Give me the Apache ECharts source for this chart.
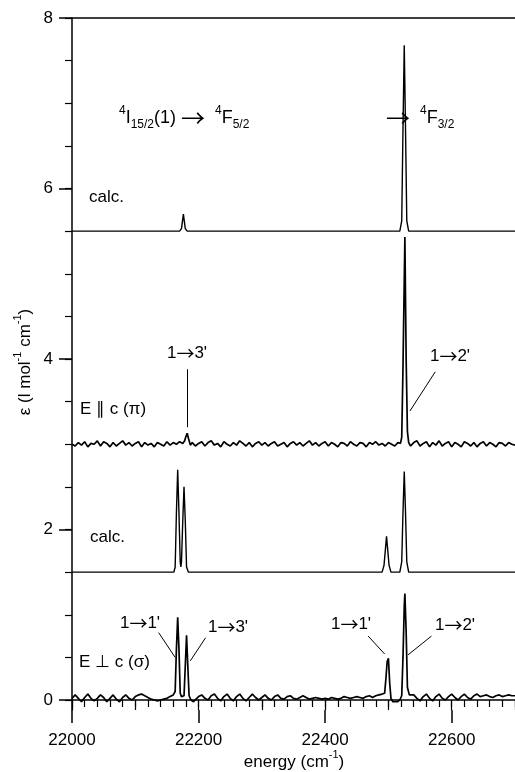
<!DOCTYPE html>
<html>
<head>
<meta charset="utf-8">
<style>
  html, body { margin: 0; padding: 0; background: #fff; }
  #chart { width: 515px; height: 772px; }
</style>
<script src="https://cdn.jsdelivr.net/npm/echarts@6/dist/echarts.min.js"></script>
</head>
<body>
<div id="chart"></div>
<script>
// Absorption spectra of the 4I15/2(1) -> 4F5/2, 4F3/2 transitions (energy in cm^-1, epsilon in l mol^-1 cm^-1)

// calculated pi spectrum (offset baseline 5.5)
const calcPi = [
  [22000, 5.5], [22170, 5.5], [22173, 5.53], [22176, 5.70], [22179, 5.53], [22182, 5.5],
  [22518, 5.5], [22521, 5.62], [22523, 6.7], [22525, 7.68], [22527, 6.7], [22529, 5.62], [22532, 5.5],
  [22700, 5.5]
];

// measured E || c (pi) spectrum (offset baseline 3.0)
const measPi = [
  [22000, 3.00], [22005, 2.98], [22010, 3.02], [22015, 2.99], [22020, 3.03], [22025, 2.97], [22030, 3.01],
  [22035, 3.00], [22040, 3.04], [22045, 2.98], [22050, 3.03], [22055, 3.01], [22060, 2.97], [22065, 3.02],
  [22070, 2.98], [22075, 3.01], [22080, 3.04], [22085, 2.99], [22090, 3.02], [22095, 2.98], [22100, 3.01],
  [22105, 3.03], [22110, 2.97], [22115, 3.02], [22120, 2.99], [22125, 3.01], [22130, 2.97], [22135, 3.02],
  [22140, 3.00], [22145, 2.98], [22150, 3.03], [22155, 2.99], [22160, 3.02], [22165, 3.00], [22170, 3.03],
  [22175, 3.01], [22178, 3.04], [22180, 3.09], [22182, 3.13], [22184, 3.07], [22187, 2.99], [22190, 3.02],
  [22195, 2.98], [22200, 3.01], [22205, 3.03], [22210, 2.98], [22215, 3.02], [22220, 3.04], [22225, 2.99],
  [22230, 3.01], [22235, 2.97], [22240, 3.03], [22245, 3.00], [22250, 2.98], [22255, 3.02], [22260, 2.99],
  [22265, 3.04], [22270, 3.01], [22275, 2.98], [22280, 3.02], [22285, 2.97], [22290, 3.01], [22295, 3.03],
  [22300, 2.99], [22305, 3.02], [22310, 2.98], [22315, 3.01], [22320, 3.03], [22325, 2.98], [22330, 3.00],
  [22335, 3.02], [22340, 2.97], [22345, 3.01], [22350, 3.03], [22355, 2.99], [22360, 3.02], [22365, 2.98],
  [22370, 3.01], [22375, 3.04], [22380, 2.99], [22385, 3.02], [22390, 2.98], [22395, 3.01], [22400, 3.03],
  [22405, 2.98], [22410, 3.02], [22415, 3.00], [22420, 2.97], [22425, 3.02], [22430, 3.01], [22435, 2.98],
  [22440, 3.03], [22445, 3.00], [22450, 2.98], [22455, 3.02], [22460, 3.01], [22465, 2.97], [22470, 3.02],
  [22475, 3.00], [22480, 3.03], [22485, 2.99], [22490, 3.01], [22495, 2.98], [22500, 3.02], [22505, 3.00],
  [22510, 2.98], [22515, 3.02], [22519, 3.01], [22521, 3.08], [22523, 3.9], [22526, 5.43], [22528, 4.0],
  [22530, 3.15], [22532, 3.02], [22535, 2.98], [22540, 3.02], [22545, 3.04], [22550, 2.98], [22555, 3.01],
  [22560, 3.03], [22565, 2.97], [22570, 3.02], [22575, 2.99], [22580, 3.04], [22585, 2.98], [22590, 3.01],
  [22595, 3.03], [22600, 2.97], [22605, 3.02], [22610, 3.00], [22615, 2.97], [22620, 3.03], [22625, 3.01],
  [22630, 2.98], [22635, 3.02], [22640, 2.97], [22645, 3.01], [22650, 3.03], [22655, 2.98], [22660, 3.02],
  [22665, 3.00], [22670, 2.97], [22675, 3.02], [22680, 3.01], [22685, 2.98], [22690, 3.02], [22695, 3.00],
  [22700, 2.99]
];

// calculated sigma spectrum (offset baseline 1.5)
const calcSigma = [
  [22000, 1.5], [22161, 1.5], [22163, 1.56], [22165, 2.2], [22167, 2.70], [22169, 2.2], [22171, 1.62],
  [22172, 1.56], [22173, 1.62], [22175, 2.1], [22177, 2.50], [22179, 2.1], [22181, 1.56], [22184, 1.5],
  [22490, 1.5], [22493, 1.58], [22495, 1.75], [22497, 1.92], [22499, 1.75], [22501, 1.58], [22504, 1.5],
  [22518, 1.5], [22521, 1.62], [22523, 2.2], [22525, 2.68], [22527, 2.2], [22529, 1.62], [22532, 1.5],
  [22700, 1.5]
];

// measured E perpendicular c (sigma) spectrum
const measSigma = [
  [22000, 0.02], [22005, 0.06], [22010, 0.02], [22015, -0.02], [22020, 0.03], [22025, 0.07], [22030, 0.02],
  [22035, -0.01], [22040, 0.02], [22045, 0.06], [22050, 0.03], [22055, -0.02], [22060, 0.02], [22065, 0.06],
  [22070, 0.01], [22075, -0.02], [22080, 0.03], [22085, 0.06], [22090, 0.02], [22095, 0.00], [22100, 0.04],
  [22105, 0.06], [22110, 0.07], [22115, 0.05], [22120, 0.03], [22125, 0.01], [22130, 0.00], [22135, -0.01],
  [22140, 0.00], [22145, 0.01], [22150, 0.02], [22155, 0.04], [22160, 0.06], [22163, 0.10], [22165, 0.6],
  [22167, 0.97], [22169, 0.6], [22171, 0.08], [22173, 0.04], [22175, 0.03], [22177, 0.05], [22179, 0.4],
  [22181, 0.76], [22183, 0.4], [22185, 0.05], [22188, 0.00], [22192, -0.02], [22196, 0.01], [22200, 0.04],
  [22205, 0.06], [22210, 0.02], [22215, 0.00], [22220, 0.05], [22225, 0.07], [22230, 0.02], [22235, -0.01],
  [22240, 0.04], [22245, 0.07], [22250, 0.02], [22255, -0.01], [22260, 0.04], [22265, 0.07], [22270, 0.02],
  [22275, -0.01], [22280, 0.03], [22285, 0.07], [22290, 0.03], [22295, 0.00], [22300, 0.03], [22305, 0.06],
  [22310, 0.02], [22315, 0.00], [22320, 0.04], [22325, 0.06], [22330, 0.02], [22335, 0.01], [22340, 0.04],
  [22345, 0.05], [22350, 0.02], [22355, 0.01], [22360, 0.03], [22365, 0.05], [22370, 0.03], [22375, 0.01],
  [22380, 0.02], [22385, 0.03], [22390, 0.02], [22395, 0.01], [22400, 0.02], [22405, 0.01], [22410, 0.03],
  [22415, 0.02], [22420, 0.01], [22425, 0.02], [22430, 0.04], [22435, 0.03], [22440, 0.02], [22445, 0.03],
  [22450, 0.04], [22455, 0.03], [22460, 0.02], [22465, 0.04], [22470, 0.05], [22475, 0.03], [22480, 0.05],
  [22485, 0.06], [22490, 0.07], [22494, 0.08], [22496, 0.25], [22498, 0.45], [22500, 0.49], [22502, 0.2],
  [22504, 0.02], [22507, -0.02], [22510, -0.01], [22514, -0.02], [22518, 0.00], [22521, 0.05], [22523, 0.5],
  [22525, 1.1], [22526, 1.25], [22528, 0.8], [22530, 0.15], [22533, 0.06], [22536, 0.04], [22540, 0.06],
  [22545, 0.02], [22550, -0.01], [22555, 0.04], [22560, 0.07], [22565, 0.02], [22570, -0.01], [22575, 0.04],
  [22580, 0.07], [22585, 0.02], [22590, 0.00], [22595, 0.04], [22600, 0.07], [22605, 0.03], [22610, 0.00],
  [22615, 0.04], [22620, 0.07], [22625, 0.03], [22630, 0.01], [22635, 0.05], [22640, 0.07], [22645, 0.04],
  [22650, 0.05], [22655, 0.06], [22660, 0.04], [22665, 0.03], [22670, 0.05], [22675, 0.06], [22680, 0.04],
  [22685, 0.05], [22690, 0.06], [22695, 0.05], [22700, 0.05]
];

// axis ticks
const yMajorTicks = [0, 2, 4, 6, 8];
const yMinorTicks = [0, 0.5, 1, 1.5, 2, 2.5, 3, 3.5, 4, 4.5, 5, 5.5, 6, 6.5, 7, 7.5, 8];

// assignment leader lines, [energy, epsilon] end points
const leaderPi = [
  [[22182, 3.88], [22182, 3.20]],
  [[22574, 3.85], [22534, 3.39]]
];
const leaderSigma = [
  [[22137, 0.79], [22163, 0.50]],
  [[22211, 0.73], [22187, 0.46]],
  [[22468, 0.75], [22494, 0.54]],
  [[22568, 0.75], [22531, 0.53]]
];

const FONT = '"Liberation Sans", Arial, Helvetica, sans-serif';
const ARROW_FONT = '"Noto Sans CJK JP", "DejaVu Sans", sans-serif';
const chart = echarts.init(document.getElementById('chart'), null, { renderer: 'canvas' });

function trace(data, width, leaders) {
  const s = {
    type: 'line', data: data, showSymbol: false, symbol: 'none',
    lineStyle: { color: '#000', width: width }, itemStyle: { color: '#000' }, silent: true, z: 3
  };
  if (leaders) {
    s.markLine = {
      silent: true, symbol: 'none', animation: false,
      label: { show: false },
      lineStyle: { color: '#000', width: 1, type: 'solid' },
      data: leaders.map(l => [{ coord: l[0] }, { coord: l[1] }])
    };
  }
  return s;
}

const axisLineStyle = { color: '#000', width: 1.5 };
const xBase = { type: 'value', min: 22000, max: 22700, position: 'bottom', splitLine: { show: false } };
const yBase = { type: 'value', min: -0.117, max: 8, position: 'left', splitLine: { show: false } };

const rich = {
  m: { fontSize: 17, fontFamily: FONT, lineHeight: 26, verticalAlign: 'middle' },
  a: { fontSize: 18, fontFamily: ARROW_FONT, lineHeight: 26, verticalAlign: 'middle' },
  h: { fontSize: 18, fontFamily: FONT, lineHeight: 26, verticalAlign: 'middle' },
  ha: { fontSize: 24, fontFamily: ARROW_FONT, lineHeight: 26, verticalAlign: 'middle' },
  sup: { fontSize: 12, fontFamily: FONT, lineHeight: 12, verticalAlign: 'top' },
  sub: { fontSize: 12, fontFamily: FONT, lineHeight: 12, verticalAlign: 'bottom' },
  ax: { fontSize: 11, fontFamily: FONT, lineHeight: 11, verticalAlign: 'top' }
};
function label(x, y, text, align, extra) {
  return Object.assign({
    type: 'text', x: x, y: y, silent: true,
    style: { text: text, rich: rich, fill: '#000', align: align || 'left', verticalAlign: 'middle' }
  }, extra || {});
}
function plain(s) { return '{m|' + s + '}'; }
function assign(a, b) { return '{m|' + a + '}{a|\u2192}{m|' + b + '}'; }

chart.setOption({
  animation: false,
  backgroundColor: '#fff',
  grid: { left: 72, right: 0, top: 18, bottom: 62, containLabel: false },
  xAxis: [
    Object.assign({}, xBase, {
      interval: 20,
      axisLine: { show: true, lineStyle: axisLineStyle },
      axisTick: { show: true, length: 7, lineStyle: { color: '#000', width: 1.2 } },
      axisLabel: { show: false }
    }),
    Object.assign({}, xBase, {
      interval: 100,
      axisLine: { show: false },
      axisTick: { show: true, length: 10, lineStyle: { color: '#000', width: 1.2 } },
      axisLabel: { show: false }
    }),
    Object.assign({}, xBase, {
      interval: 200,
      axisLine: { show: false },
      axisTick: { show: true, length: 13, lineStyle: { color: '#000', width: 1.5 } },
      axisLabel: {
        show: true, color: '#000', fontSize: 17, fontFamily: FONT, margin: 22, showMaxLabel: false,
        formatter: v => String(v)
      }
    }),
    Object.assign({}, xBase, {
      position: 'top',
      axisLine: { show: true, lineStyle: axisLineStyle },
      axisTick: { show: false },
      axisLabel: { show: false }
    })
  ],
  yAxis: [
    Object.assign({}, yBase, {
      axisLine: { show: true, lineStyle: axisLineStyle },
      axisTick: { show: true, length: 13, customValues: yMajorTicks, lineStyle: { color: '#000', width: 1.5 } },
      axisLabel: { show: true, customValues: yMajorTicks, color: '#000', fontSize: 17, fontFamily: FONT, margin: 19 }
    }),
    Object.assign({}, yBase, {
      axisLine: { show: false },
      axisTick: { show: true, length: 7, customValues: yMinorTicks, lineStyle: { color: '#000', width: 1.2 } },
      axisLabel: { show: false }
    })
  ],
  series: [
    trace(calcPi, 1.4),
    trace(measPi, 1.7, leaderPi),
    trace(calcSigma, 1.4),
    trace(measSigma, 1.7, leaderSigma)
  ],
  graphic: [
    label(119, 118, '{sup|4}{h|I}{sub|15/2}{h|(1) }{ha|\u2192}{h|  }{sup|4}{h|F}{sub|5/2}'),
    label(386, 118, '{ha|\u2192}{h|  }{sup|4}{h|F}{sub|3/2}'),
    label(89, 197, plain('calc.')),
    label(80, 409, plain('E \u2225 c (\u03c0)')),
    label(187, 353, assign('1', '3\''), 'center'),
    label(450, 356, assign('1', '2\''), 'center'),
    label(90, 537, plain('calc.')),
    label(79, 662, plain('E \u22a5 c (\u03c3)')),
    label(140, 623, assign('1', '1\''), 'center'),
    label(228, 627, assign('1', '3\''), 'center'),
    label(351, 624, assign('1', '1\''), 'center'),
    label(455, 625, assign('1', '2\''), 'center'),
    label(294, 762, '{m|energy (cm}{ax|-1}{m|)}', 'center'),
    label(25, 362, '{m|\u03b5 (l mol}{ax|-1}{m| cm}{ax|-1}{m|)}', 'center', { rotation: Math.PI / 2 })
  ]
});
</script>
</body>
</html>
